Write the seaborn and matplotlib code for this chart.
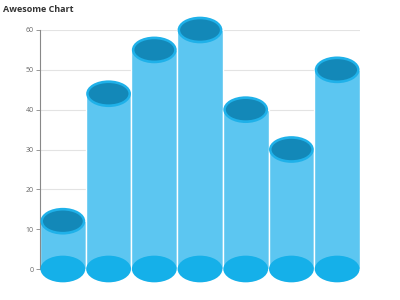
import matplotlib
matplotlib.use("Agg")
import matplotlib.pyplot as plt
from matplotlib.patches import Ellipse
import seaborn as sns
import pandas as pd

categories = ["A", "B", "C", "D", "E", "F", "G"]
values = [12, 44, 55, 60, 40, 30, 50]
y_ticks = [0, 10, 20, 30, 40, 50, 60]

sns.set_theme(style="white")
plt.rcParams['font.family'] = ['Open Sans', 'DejaVu Sans']

df = pd.DataFrame({"cat": categories, "val": values})

fig = plt.figure(figsize=(4, 3), dpi=100)
ax = fig.add_axes([0.1, 1 - 269 / 300, 0.8, (269 - 30) / 300])

sns.barplot(data=df, x="cat", y="val", ax=ax, width=1.0, color="#5cc6f1",
            saturation=1, edgecolor="white", linewidth=1.0, zorder=2)

ax.set_ylim(0, 60)
ax.set_xlim(-0.5, len(categories) - 0.5)
ax.set_yticks(y_ticks)
ax.set_yticklabels([str(t) for t in y_ticks])
ax.set_xticks([])
ax.set_xlabel("")
ax.set_ylabel("")
ax.yaxis.grid(True, color="#e3e3e3", linewidth=0.8, zorder=0)
ax.set_axisbelow(True)
for s in ["top", "right", "bottom"]:
    ax.spines[s].set_visible(False)
ax.spines["left"].set_color("#888888")
ax.spines["left"].set_linewidth(0.8)
ax.tick_params(axis="y", left=True, length=3, width=0.6, color="#888888",
               labelsize=5, labelcolor="#666666", pad=1.5)

eh = 6.7  # ellipse height in data units
for i, v in enumerate(values):
    ax.add_patch(Ellipse((i, 0), 0.98, eh, facecolor="#15b0e9", edgecolor="none",
                         zorder=3, clip_on=False))
    ax.add_patch(Ellipse((i, v), 0.98, eh, facecolor="#1fb1e9", edgecolor="none",
                         zorder=4, clip_on=False))
    ax.add_patch(Ellipse((i, v), 0.87, eh * 0.8, facecolor="#1388b8", edgecolor="none",
                         zorder=5, clip_on=False))

fig.text(0.008, 0.985, "Awesome Chart", fontsize=6.5, fontweight="bold",
         color="#333333", va="top", ha="left")

fig.savefig("out.png", dpi=100)
